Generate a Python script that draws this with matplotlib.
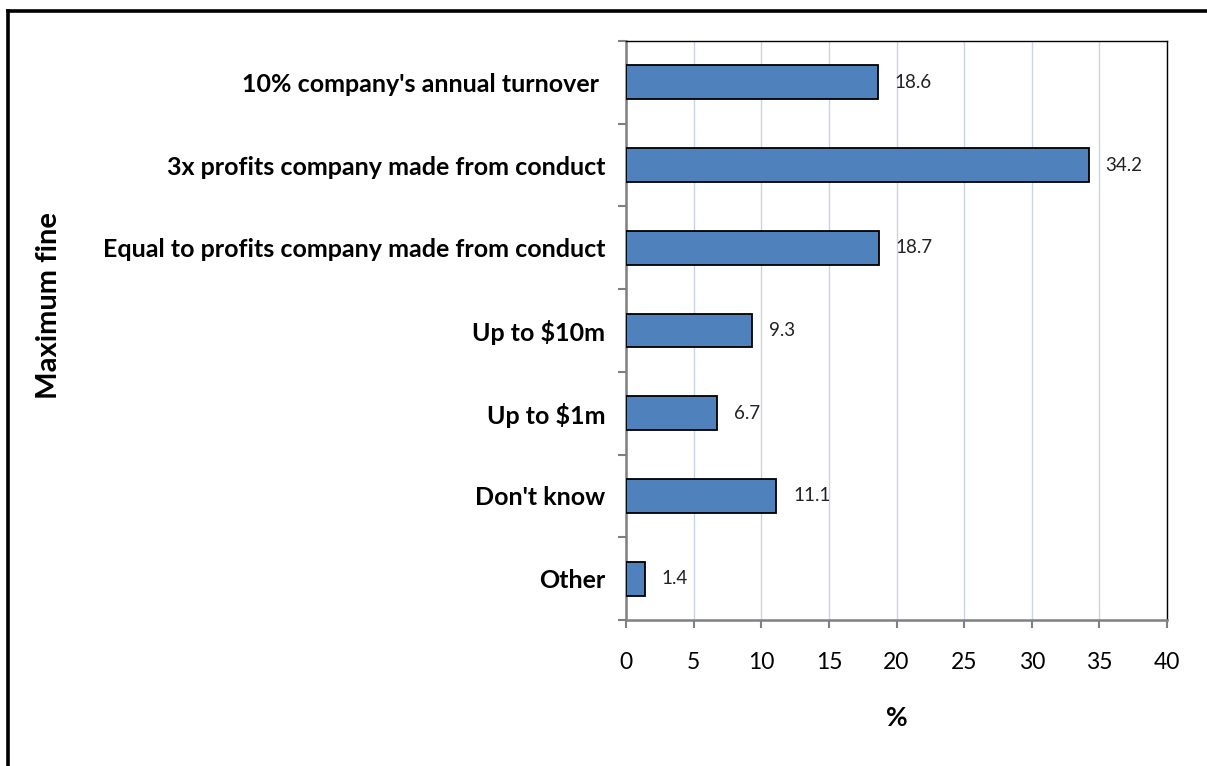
import matplotlib
matplotlib.use("Agg")
import matplotlib.pyplot as plt
from matplotlib.lines import Line2D

categories = [
    "10% company's annual turnover ",
    "3x profits company made from conduct",
    "Equal to profits company made from conduct",
    "Up to $10m",
    "Up to $1m",
    "Don't know",
    "Other",
]
values = [18.6, 34.2, 18.7, 9.3, 6.7, 11.1, 1.4]
x_ticks = [0, 5, 10, 15, 20, 25, 30, 35, 40]

plt.rcParams["font.family"] = ["Lato", "DejaVu Sans"]

W, H = 1207, 766
fig = plt.figure(figsize=(W / 100, H / 100), dpi=100)
fig.patch.set_facecolor("white")


def fx(px):
    return px / W


def fy(py):
    return 1 - py / H


# frame along the top and left edges of the chart
fig.add_artist(Line2D([fx(7.5), fx(7.5)], [fy(11), fy(H + 5)], transform=fig.transFigure,
                      color="black", linewidth=2.6, solid_capstyle="projecting"))
fig.add_artist(Line2D([fx(7.5), fx(W + 5)], [fy(11), fy(11)], transform=fig.transFigure,
                      color="black", linewidth=2.6, solid_capstyle="projecting"))

left, right, top, bottom = 626, 1167, 41, 620
ax = fig.add_axes([left / W, 1 - bottom / H, (right - left) / W, (bottom - top) / H])

n = len(categories)
ypos = list(range(n))
ax.barh(ypos, values, height=0.41, color="#4F81BD", edgecolor="black",
        linewidth=1.3, zorder=3)
ax.set_ylim(n - 0.5, -0.5)
ax.set_xlim(0, 40)

for y, v in zip(ypos, values):
    ax.text(v + 1.25, y, f"{v:.1f}", va="center", ha="left", fontsize=13.5, color="#222222")

ax.set_xticks(x_ticks)
ax.set_xticklabels([str(t) for t in x_ticks], fontsize=16.5)
ax.grid(axis="x", color="#C9D4EA", linewidth=1.0, zorder=0)

# category labels, with tick marks on the band boundaries
ax.set_yticks(ypos)
ax.set_yticklabels(categories, fontsize=18, fontweight="bold")
ax.tick_params(axis="y", which="major", length=0, pad=15)
ax.set_yticks([i - 0.5 for i in range(n + 1)], minor=True)
ax.tick_params(axis="y", which="minor", length=6, width=1.5, color="#808080")
ax.tick_params(axis="x", length=6, width=1.5, color="#808080", pad=17)

for s in ("left", "bottom"):
    ax.spines[s].set_color("#808080")
    ax.spines[s].set_linewidth(1.8)
for s in ("top", "right"):
    ax.spines[s].set_color("black")
    ax.spines[s].set_linewidth(1.0)

fig.text(fx(897), fy(718), "%", fontsize=19, fontweight="bold", ha="center", va="center")
fig.text(fx(49), fy(306), "Maximum fine", rotation=90, fontsize=21,
         fontweight="bold", ha="center", va="center")

fig.savefig("out.png", dpi=100)
